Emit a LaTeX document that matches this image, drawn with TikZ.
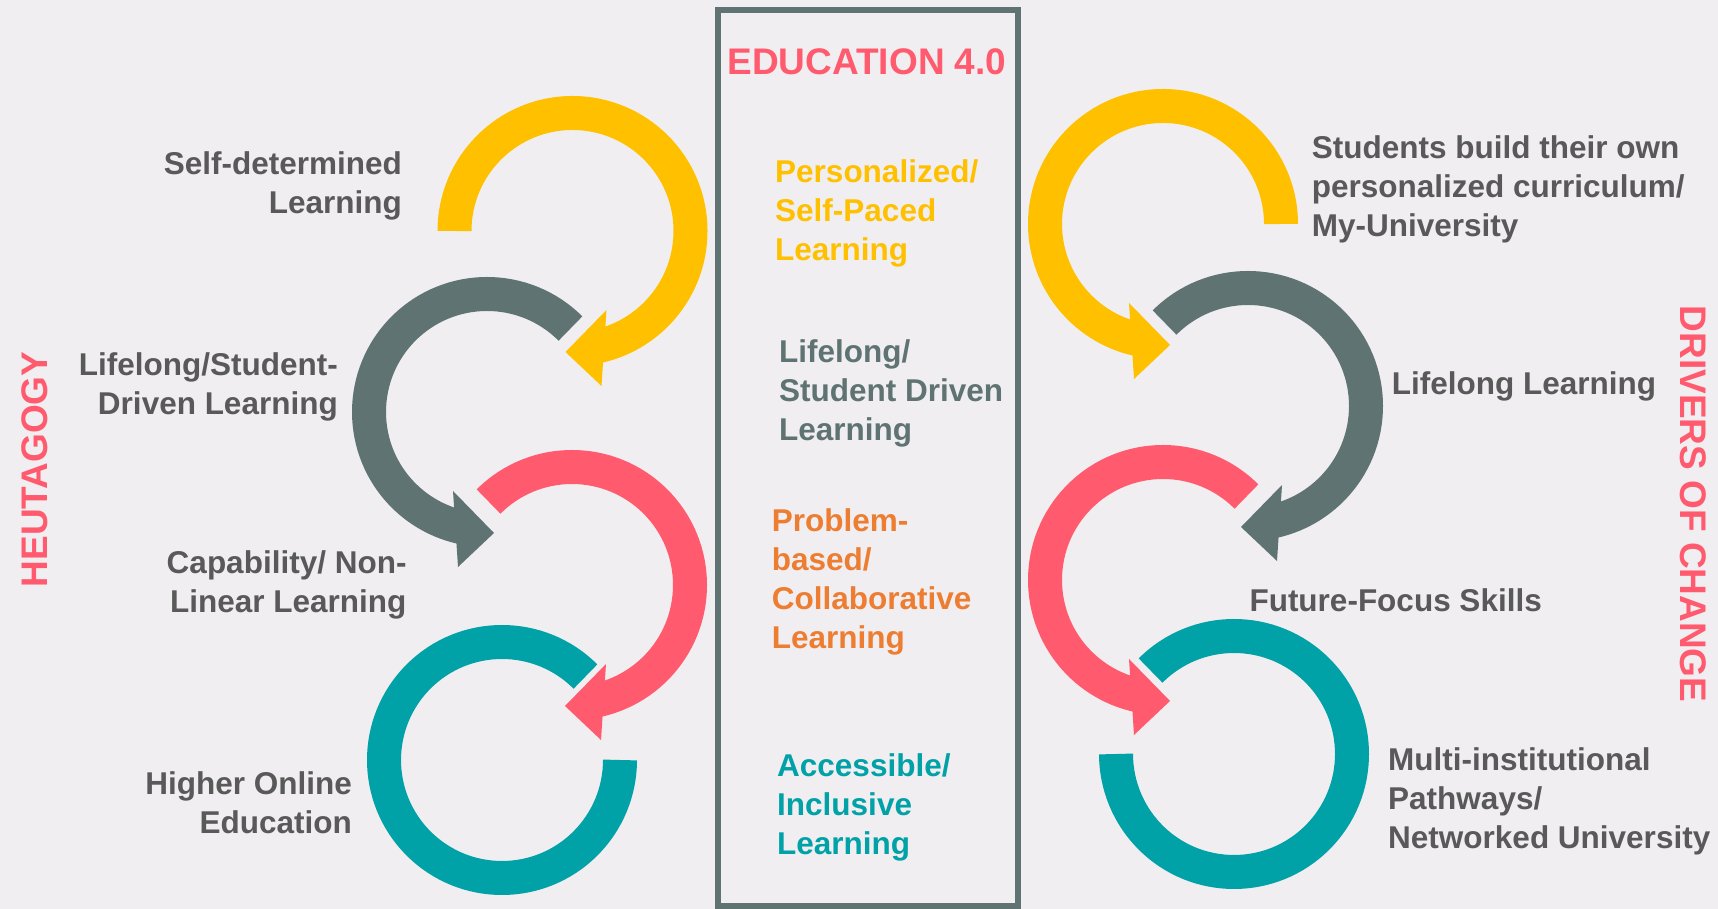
\documentclass[tikz,border=0pt]{standalone}
\usepackage{fontspec}
\setmainfont{Liberation Sans}
\definecolor{cbg}{RGB}{240,238,241}
\definecolor{cyellow}{RGB}{255,192,0}
\definecolor{cgray}{RGB}{94,115,114}
\definecolor{cpink}{RGB}{255,90,110}
\definecolor{cteal}{RGB}{0,161,167}
\definecolor{corange}{RGB}{237,125,49}
\definecolor{ctext}{RGB}{89,89,89}
\begin{document}
\begin{tikzpicture}[x=1pt,y=1pt,
  ring/.style={line width=34pt},
  lbl/.style={font=\bfseries\fontsize{31.5pt}{39pt}\selectfont, text=ctext, inner sep=0pt},
  mid/.style={font=\bfseries\fontsize{31.5pt}{39pt}\selectfont, inner sep=0pt, align=left, anchor=base west},
  big/.style={font=\bfseries\fontsize{37pt}{44pt}\selectfont, text=cpink, inner sep=0pt}]
\fill[cbg] (0,0) rectangle (1718,909);
\useasboundingbox (0,0) rectangle (1718,909);

% ---- left column ----
% yellow (type A)
\begin{scope}[shift={(572.5,678)}]
  \draw[ring, cyellow] (180:118) arc[start angle=180, end angle=-80, radius=118];
  \fill[cyellow] (-7,-121) -- (34,-79) -- (29,-155) -- cycle;
\end{scope}
% gray (type B)
\begin{scope}[shift={(487,497)}]
  \draw[ring, cgray] (45:118) arc[start angle=45, end angle=260, radius=118];
  \fill[cgray] (7,-121) -- (-34,-79) -- (-29,-155) -- cycle;
\end{scope}
% pink (type A)
\begin{scope}[shift={(572,324)}]
  \draw[ring, cpink] (135:118) arc[start angle=135, end angle=-80, radius=118];
  \fill[cpink] (-7,-121) -- (34,-79) -- (29,-155) -- cycle;
\end{scope}
% teal
\begin{scope}[shift={(502,149)}]
  \draw[ring, cteal] (45:118) arc[start angle=45, end angle=360, radius=118];
\end{scope}

% ---- right column ----
\begin{scope}[shift={(1163,685)}]
  \draw[ring, cyellow] (0:118) arc[start angle=0, end angle=260, radius=118];
  \fill[cyellow] (7,-121) -- (-34,-79) -- (-29,-155) -- cycle;
\end{scope}
\begin{scope}[shift={(1248,503)}]
  \draw[ring, cgray] (135:118) arc[start angle=135, end angle=-80, radius=118];
  \fill[cgray] (-7,-121) -- (34,-79) -- (29,-155) -- cycle;
\end{scope}
\begin{scope}[shift={(1163,329)}]
  \draw[ring, cpink] (45:118) arc[start angle=45, end angle=260, radius=118];
  \fill[cpink] (7,-121) -- (-34,-79) -- (-29,-155) -- cycle;
\end{scope}
\begin{scope}[shift={(1234,155)}]
  \draw[ring, cteal] (135:118) arc[start angle=135, end angle=-180, radius=118];
\end{scope}

% ---- central box ----
\draw[cgray, line width=5.5pt] (718,3) rectangle (1018,899);

% ---- texts (multi-line nodes anchored at the baseline of their last line) ----
\node[big, anchor=base] (title) at (867,834.8) {EDUCATION 4.0};
\node[mid, text=cyellow] (c1) at (775,648.2) {Personalized/\\Self-Paced\\Learning};
\node[mid, text=cgray] (c2) at (779,468.5) {Lifelong/\\Student Driven\\Learning};
\node[mid, text=corange] (c3) at (771.7,260) {Problem-\\based/\\Collaborative\\Learning};
\node[mid, text=cteal] (c4) at (777,54.2) {Accessible/\\Inclusive\\Learning};

\node[lbl, align=right, anchor=base east] (l1) at (402,695) {Self-determined\\Learning};
\node[lbl, align=right, anchor=base east] (l2) at (338,494) {Lifelong/Student-\\Driven Learning};
\node[lbl, align=right, anchor=base east] (l3) at (406.7,296) {Capability/ Non-\\Linear Learning};
\node[lbl, align=right, anchor=base east] (l4) at (352,75.5) {Higher Online\\Education};

\node[lbl, align=left, anchor=base west] (r1) at (1311.7,672) {Students build their own\\personalized curriculum/\\My-University};
\node[lbl, anchor=base west] (r2) at (1391.7,514) {Lifelong Learning};
\node[lbl, anchor=base west] (r3) at (1249.3,297.3) {Future-Focus Skills};
\node[lbl, align=left, anchor=base west] (r4) at (1388,60) {Multi-institutional\\Pathways/\\Networked University};

\node[big, rotate=90, anchor=base] (heu) at (47.7,439.5) {HEUTAGOGY};
\node[big, rotate=-90, anchor=base] (drv) at (1680,405) {DRIVERS OF CHANGE};
\end{tikzpicture}
\end{document}
